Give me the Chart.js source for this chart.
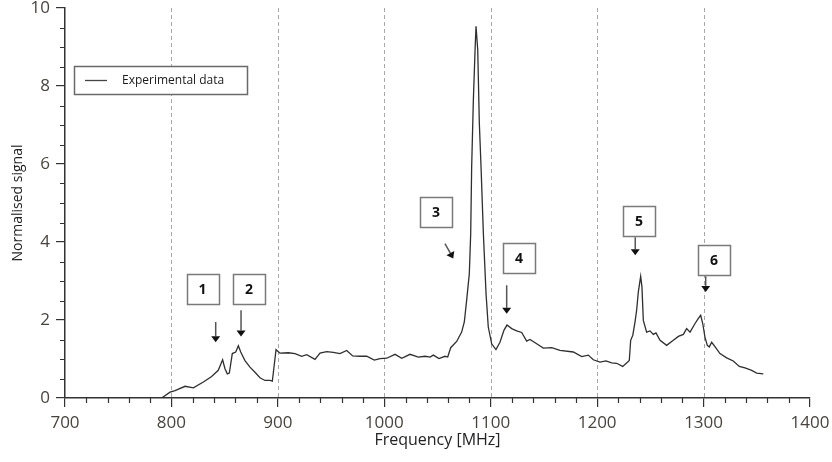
<!DOCTYPE html>
<html>
<head>
<meta charset="utf-8">
<title>Normalised signal vs frequency</title>
<script src="https://cdn.jsdelivr.net/npm/chart.js@4"></script>
<style>
  html, body { margin: 0; padding: 0; background: #fff; }
  #wrap { width: 832px; height: 462px; position: relative; }
</style>
</head>
<body>
<div id="wrap"><canvas id="spectrum"></canvas></div>
<script>
// Measured spectrum: frequency in MHz and normalised signal
const freqs = [
  790.8, 798.7, 803.4, 812.8, 820.6, 830.0, 837.8, 844.0, 848.1, 850.3,
  852.5, 854.4, 857.2, 860.4, 862.9, 865.1, 869.1, 873.8, 878.5, 883.2,
  887.9, 892.6, 894.8, 898.3, 902.0, 909.8, 916.1, 922.4, 927.1, 934.9,
  939.6, 945.9, 952.1, 958.4, 964.7, 970.3, 977.2, 983.5, 990.6, 996.0,
  1002.3, 1010.1, 1016.4, 1024.2, 1032.0, 1038.3, 1043.0, 1046.1, 1051.4, 1057.0,
  1059.6, 1062.4, 1068.0, 1072.7, 1075.2, 1077.4, 1079.9, 1081.2, 1082.1, 1083.7,
  1085.3, 1086.2, 1087.8, 1089.3, 1090.9, 1093.1, 1095.6, 1097.7, 1100.9, 1104.9,
  1108.7, 1112.5, 1115.3, 1119.7, 1124.4, 1129.1, 1133.8, 1136.9, 1143.2, 1149.4,
  1157.3, 1165.1, 1177.6, 1185.5, 1191.7, 1196.4, 1202.7, 1208.3, 1213.6, 1218.3,
  1224.0, 1227.7, 1230.2, 1231.5, 1233.5, 1235.6, 1237.1, 1238.7, 1240.9, 1242.1,
  1243.4, 1246.5, 1249.7, 1252.8, 1255.3, 1259.1, 1265.3, 1271.6, 1276.3, 1281.0,
  1284.1, 1287.3, 1292.0, 1295.1, 1297.3, 1299.2, 1301.3, 1303.5, 1305.4, 1307.6,
  1310.7, 1315.4, 1321.7, 1327.9, 1333.6, 1338.9, 1345.2, 1349.9, 1356.1
];
const signal = [
  0.00, 0.15, 0.19, 0.30, 0.26, 0.41, 0.55, 0.71, 0.98, 0.75,
  0.62, 0.64, 1.14, 1.18, 1.34, 1.18, 0.96, 0.79, 0.66, 0.52,
  0.45, 0.45, 0.43, 1.24, 1.15, 1.16, 1.14, 1.07, 1.11, 0.99,
  1.15, 1.19, 1.17, 1.14, 1.22, 1.08, 1.07, 1.07, 0.97, 1.01,
  1.02, 1.12, 1.02, 1.12, 1.05, 1.07, 1.05, 1.10, 1.01, 1.07,
  1.05, 1.29, 1.45, 1.69, 1.95, 2.51, 3.19, 4.22, 5.93, 7.65,
  8.93, 9.53, 8.93, 7.05, 5.93, 4.22, 2.68, 1.82, 1.39, 1.24,
  1.43, 1.74, 1.87, 1.78, 1.72, 1.68, 1.46, 1.50, 1.39, 1.28,
  1.29, 1.22, 1.18, 1.06, 1.10, 0.98, 0.92, 0.95, 0.90, 0.89,
  0.81, 0.90, 0.96, 1.48, 1.61, 1.95, 2.25, 2.72, 3.12, 2.85,
  1.99, 1.69, 1.72, 1.63, 1.67, 1.48, 1.35, 1.48, 1.58, 1.63,
  1.78, 1.69, 1.91, 2.04, 2.12, 1.91, 1.56, 1.35, 1.31, 1.43,
  1.32, 1.14, 1.03, 0.95, 0.81, 0.77, 0.71, 0.64, 0.62
];

// Axis ticks
const xTicks = [700, 800, 900, 1000, 1100, 1200, 1300, 1400];
const yTicks = [0, 2, 4, 6, 8, 10];
const xGridLines = [800, 900, 1000, 1100, 1200, 1300];

// Numbered peak markers (box centre and arrow, in data units)
const markerLabels = ['1', '2', '3', '4', '5', '6'];
const markerBoxX = [829.2, 872.9, 1048.6, 1126.6, 1239.3, 1309.8];
const markerBoxY = [2.79, 2.79, 4.77, 3.59, 4.54, 3.53];
const arrowFromX = [841.6, 865.4, 1057.0, 1115.0, 1235.8, 1302.0];
const arrowFromY = [1.95, 2.25, 3.96, 2.89, 4.12, 3.12];
const arrowToX = [841.6, 865.4, 1064.8, 1115.0, 1235.8, 1302.0];
const arrowToY = [1.43, 1.58, 3.58, 2.16, 3.66, 2.72];

const points = freqs.map((f, i) => ({ x: f, y: signal[i] }));

const axisColor = '#333';
const tickLabelColor = '#48443f';

Chart.defaults.font.family = "'Open Sans', 'DejaVu Sans', sans-serif";

// dashed vertical guides behind the trace
const gridPlugin = {
  id: 'dashedGrid',
  beforeDatasetsDraw(chart) {
    const { ctx, chartArea, scales } = chart;
    ctx.save();
    ctx.strokeStyle = '#a8a8a8';
    ctx.lineWidth = 1;
    ctx.setLineDash([4, 3]);
    xGridLines.forEach(v => {
      const px = Math.round(scales.x.getPixelForValue(v)) + 0.5;
      ctx.beginPath();
      ctx.moveTo(px, chartArea.top);
      ctx.lineTo(px, chartArea.bottom);
      ctx.stroke();
    });
    ctx.restore();
  }
};

// minor tick marks on both axes
const minorTicksPlugin = {
  id: 'minorTicks',
  afterDraw(chart) {
    const { ctx, chartArea, scales } = chart;
    ctx.save();
    ctx.strokeStyle = axisColor;
    ctx.lineWidth = 1.2;
    ctx.beginPath();
    for (let v = 720; v < 1400; v += 20) {
      if (v % 100 === 0) continue;
      const px = Math.round(scales.x.getPixelForValue(v)) + 0.5;
      ctx.moveTo(px, chartArea.bottom);
      ctx.lineTo(px, chartArea.bottom + 5);
    }
    for (let v = 0.5; v < 10; v += 0.5) {
      if (v % 2 === 0) continue;
      const py = Math.round(scales.y.getPixelForValue(v)) + 0.5;
      ctx.moveTo(chartArea.left, py);
      ctx.lineTo(chartArea.left - 5, py);
    }
    ctx.stroke();
    ctx.restore();
  }
};

function drawArrow(ctx, x1, y1, x2, y2) {
  const ang = Math.atan2(y2 - y1, x2 - x1);
  const head = 6, half = 4.5;
  const bx = x2 - head * Math.cos(ang), by = y2 - head * Math.sin(ang);
  ctx.strokeStyle = '#555';
  ctx.lineWidth = 1.5;
  ctx.beginPath();
  ctx.moveTo(x1, y1);
  ctx.lineTo(bx, by);
  ctx.stroke();
  ctx.fillStyle = '#111';
  ctx.beginPath();
  ctx.moveTo(x2, y2);
  ctx.lineTo(bx + half * Math.sin(ang), by - half * Math.cos(ang));
  ctx.lineTo(bx - half * Math.sin(ang), by + half * Math.cos(ang));
  ctx.closePath();
  ctx.fill();
}

// numbered boxes with arrows, plus the inset legend
const annotationPlugin = {
  id: 'peakMarkers',
  afterDatasetsDraw(chart) {
    const { ctx, chartArea, scales } = chart;
    ctx.save();
    markerLabels.forEach((label, i) => {
      const cx = scales.x.getPixelForValue(markerBoxX[i]);
      const cy = scales.y.getPixelForValue(markerBoxY[i]);
      const w = 32, h = 30;
      ctx.fillStyle = '#fff';
      ctx.fillRect(cx - w / 2, cy - h / 2, w, h);
      ctx.strokeStyle = '#7a7a7a';
      ctx.lineWidth = 1.5;
      ctx.strokeRect(Math.round(cx - w / 2) + 0.5, Math.round(cy - h / 2) + 0.5, w, h);
      ctx.fillStyle = '#111';
      ctx.font = "bold 14px 'Open Sans', sans-serif";
      ctx.textAlign = 'center';
      ctx.textBaseline = 'middle';
      ctx.fillText(label, cx, cy + 1);

      drawArrow(ctx,
        scales.x.getPixelForValue(arrowFromX[i]), scales.y.getPixelForValue(arrowFromY[i]),
        scales.x.getPixelForValue(arrowToX[i]), scales.y.getPixelForValue(arrowToY[i]));
    });

    // legend
    const lx = chartArea.left + 9, ly = chartArea.top + 58;
    ctx.fillStyle = '#fff';
    ctx.fillRect(lx, ly, 173, 28);
    ctx.strokeStyle = '#6a6a6a';
    ctx.lineWidth = 1.5;
    ctx.strokeRect(lx + 0.5, ly + 0.5, 173, 28);
    ctx.strokeStyle = '#444';
    ctx.lineWidth = 1.3;
    ctx.beginPath();
    ctx.moveTo(lx + 11, ly + 14.5);
    ctx.lineTo(lx + 33, ly + 14.5);
    ctx.stroke();
    ctx.fillStyle = '#1a1a1a';
    ctx.font = "12px 'Open Sans', sans-serif";
    ctx.textAlign = 'left';
    ctx.textBaseline = 'middle';
    ctx.fillText(chart.data.datasets[0].label, lx + 48, ly + 14.5);
    ctx.restore();
  }
};

new Chart(document.getElementById('spectrum').getContext('2d'), {
  type: 'line',
  data: {
    datasets: [{
      label: 'Experimental data',
      data: points,
      borderColor: '#2f2f2f',
      borderWidth: 1.3,
      pointRadius: 0,
      tension: 0,
      fill: false
    }]
  },
  options: {
    responsive: true,
    maintainAspectRatio: false,
    animation: false,
    layout: { padding: { top: 8, right: 22, left: 0, bottom: 0 } },
    plugins: {
      legend: { display: false },
      tooltip: { enabled: false }
    },
    scales: {
      x: {
        type: 'linear',
        min: 700,
        max: 1400,
        afterBuildTicks: s => { s.ticks = xTicks.map(v => ({ value: v })); },
        ticks: { color: tickLabelColor, font: { size: 17 }, padding: 6, maxRotation: 0, callback: v => String(v) },
        grid: { drawOnChartArea: false, color: axisColor, tickLength: 9, lineWidth: 1.2 },
        border: { color: axisColor, width: 1.5 },
        title: { display: true, text: 'Frequency [MHz]', color: '#222', font: { size: 16 }, padding: { top: 0, bottom: 12.4 } },
        afterFit: s => { s.height = 64; s.paddingLeft = 0; s.paddingRight = 0; }
      },
      y: {
        min: 0,
        max: 10,
        afterBuildTicks: s => { s.ticks = yTicks.map(v => ({ value: v })); },
        ticks: { color: tickLabelColor, font: { size: 17 }, padding: 6, callback: v => String(v) },
        grid: { drawOnChartArea: false, color: axisColor, tickLength: 9, lineWidth: 1.2 },
        border: { color: axisColor, width: 1.5 },
        title: { display: true, text: 'Normalised signal', color: '#222', font: { size: 14 }, padding: { top: 9.6, bottom: 0 } },
        afterFit: s => { s.width = 65; s.paddingTop = 0; s.paddingBottom = 0; }
      }
    }
  },
  plugins: [gridPlugin, minorTicksPlugin, annotationPlugin]
});
</script>
</body>
</html>
